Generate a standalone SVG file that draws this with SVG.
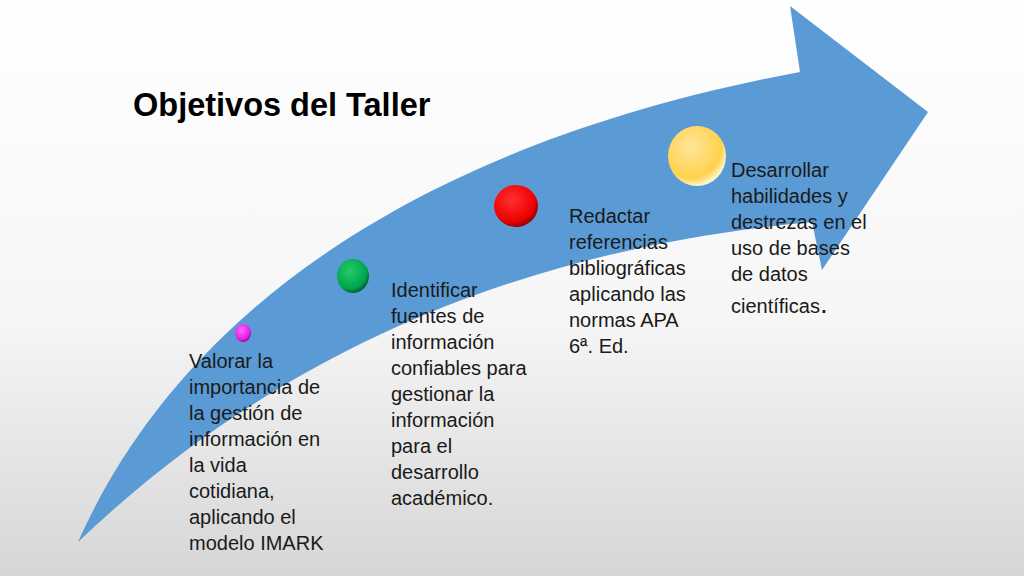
<svg xmlns="http://www.w3.org/2000/svg" width="1024" height="576" viewBox="0 0 1024 576">
<defs>
<linearGradient id="bg" x1="0" y1="0" x2="0" y2="1"><stop offset="0" stop-color="#ffffff"/><stop offset="0.55" stop-color="#f6f6f6"/><stop offset="1" stop-color="#d6d6d6"/></linearGradient>
<radialGradient id="gy" cx="0.4" cy="0.35" r="0.65"><stop offset="0" stop-color="#ffe59a"/><stop offset="0.8" stop-color="#ffd24d"/><stop offset="1" stop-color="#fff4cc"/></radialGradient>
<radialGradient id="gr" cx="0.4" cy="0.35" r="0.65"><stop offset="0" stop-color="#ff3030"/><stop offset="0.8" stop-color="#ee0000"/><stop offset="1" stop-color="#a00000"/></radialGradient>
<radialGradient id="gg" cx="0.4" cy="0.35" r="0.65"><stop offset="0" stop-color="#22cc66"/><stop offset="0.8" stop-color="#00a550"/><stop offset="1" stop-color="#006630"/></radialGradient>
<radialGradient id="gm" cx="0.4" cy="0.35" r="0.65"><stop offset="0" stop-color="#ff66ff"/><stop offset="0.8" stop-color="#e020e0"/><stop offset="1" stop-color="#a000a0"/></radialGradient>
<style>
.t{font-family:"Liberation Sans",Arial,sans-serif;font-size:20px;fill:#1a1a1a}
.h{font-family:"Liberation Sans",Arial,sans-serif;font-size:32.5px;font-weight:bold;fill:#000}
</style>
</defs>
<rect width="1024" height="576" fill="url(#bg)"/>
<g id="arrow">
<path d="M78,542 C150,380 330,160 800,72 L790,6 L928,112 L822,270 L812,222 C560,245 300,330 78,542 Z" fill="#5b9bd5"/>
</g>
<text class="h" x="133" y="116">Objetivos del Taller</text>
<g id="n1"><ellipse cx="243" cy="333" rx="8" ry="9" fill="url(#gm)"/>
<text class="t" x="189" y="368">Valorar la<tspan x="189" dy="26">importancia de</tspan><tspan x="189" dy="26">la gestión de</tspan><tspan x="189" dy="26">información en</tspan><tspan x="189" dy="26">la vida</tspan><tspan x="189" dy="26">cotidiana,</tspan><tspan x="189" dy="26">aplicando el</tspan><tspan x="189" dy="26">modelo IMARK</tspan></text></g>
<g id="n2"><ellipse cx="353" cy="276" rx="16" ry="17" fill="url(#gg)"/>
<text class="t" x="391" y="297">Identificar<tspan x="391" dy="26">fuentes de</tspan><tspan x="391" dy="26">información</tspan><tspan x="391" dy="26">confiables para</tspan><tspan x="391" dy="26">gestionar la</tspan><tspan x="391" dy="26">información</tspan><tspan x="391" dy="26">para el</tspan><tspan x="391" dy="26">desarrollo</tspan><tspan x="391" dy="26">académico.</tspan></text></g>
<g id="n3"><ellipse cx="516" cy="206" rx="22" ry="21" fill="url(#gr)"/>
<text class="t" x="569" y="223">Redactar<tspan x="569" dy="26">referencias</tspan><tspan x="569" dy="26">bibliográficas</tspan><tspan x="569" dy="26">aplicando las</tspan><tspan x="569" dy="26">normas APA</tspan><tspan x="569" dy="26">6ª. Ed.</tspan></text></g>
<g id="n4"><ellipse cx="697" cy="156" rx="29" ry="30" fill="url(#gy)"/>
<text class="t" x="731" y="177">Desarrollar<tspan x="731" dy="26">habilidades y</tspan><tspan x="731" dy="26">destrezas en el</tspan><tspan x="731" dy="26">uso de bases</tspan><tspan x="731" dy="26">de datos</tspan><tspan x="731" dy="32">científicas<tspan font-size="28px">.</tspan></tspan></text></g>
<g id="connectors"/>
</svg>
